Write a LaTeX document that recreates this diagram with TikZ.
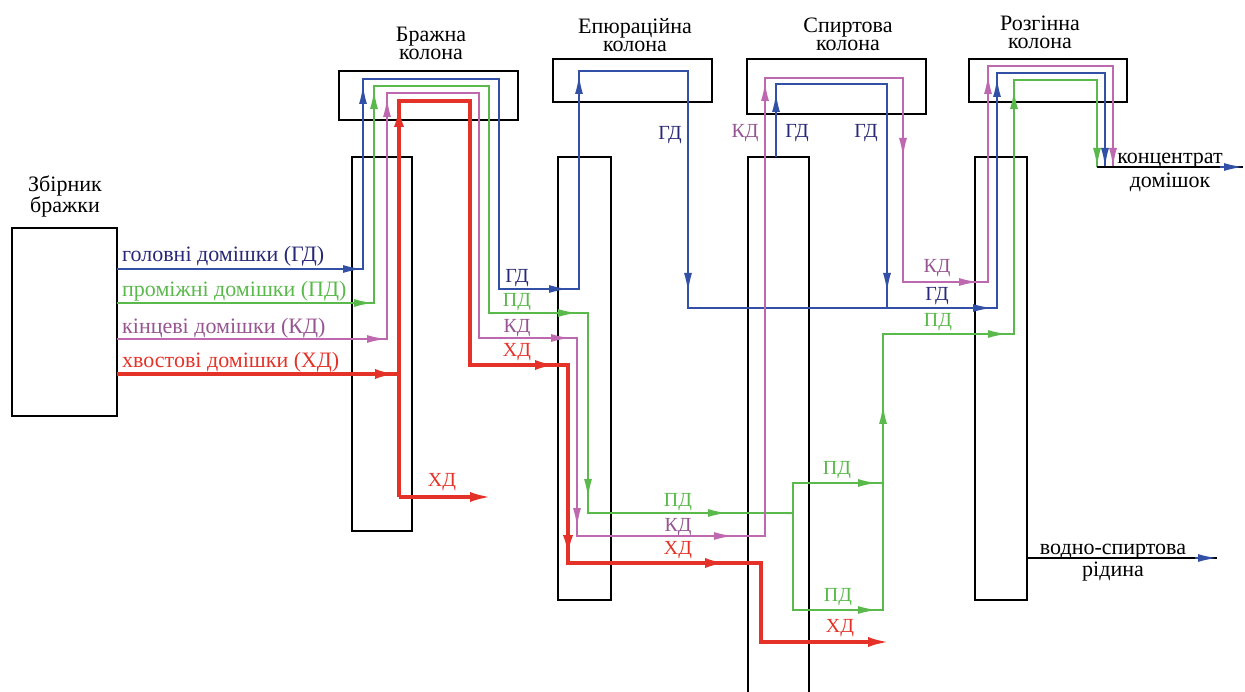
\documentclass[tikz,border=0pt]{standalone}
\usepackage{fontspec}
\setmainfont{Liberation Serif}
\newfontfamily\lserif{Liberation Serif}
\usepackage{xcolor}
\usetikzlibrary{arrows.meta,positioning}

\definecolor{gdline}{RGB}{50,80,165}
\definecolor{gdtext}{RGB}{40,40,120}
\definecolor{pdline}{RGB}{90,185,75}
\definecolor{kdline}{RGB}{190,105,175}
\definecolor{kdtext}{RGB}{150,85,145}
\definecolor{xdline}{RGB}{228,50,40}

\begin{document}
\begin{tikzpicture}[x=1pt, y=-1pt, >={Latex[length=19pt,width=8pt]}]

\tikzstyle{box}=[draw=black, line width=1.6pt, inner sep=0pt, outer sep=0pt]
\tikzstyle{title}=[font=\lserif\fontsize{22}{18}\selectfont, inner sep=0pt, align=center]
\tikzstyle{lbl}=[font=\lserif\fontsize{20}{20}\selectfont, inner sep=0pt]
\tikzstyle{inlbl}=[font=\lserif\fontsize{22}{22}\selectfont, inner sep=0pt, anchor=base west]
\tikzstyle{gd}=[draw=gdline, line width=1.8pt]
\tikzstyle{pd}=[draw=pdline, line width=1.8pt]
\tikzstyle{kd}=[draw=kdline, line width=1.8pt]
\tikzstyle{xd}=[draw=xdline, line width=3.6pt, >={Latex[length=22pt,width=10pt]}]

\useasboundingbox (0,0) rectangle (1245,692);

% збірник і колони
\node[box, minimum width=105pt, minimum height=188pt] (zbir) at (64.5,322) {};
\node[box, minimum width=179pt, minimum height=49pt] (brcap) at (428.5,95.5) {};
\node[box, minimum width=60pt, minimum height=374pt] (brcol) at (382,344) {};
\node[box, minimum width=159pt, minimum height=43pt] (epcap) at (632.5,80.5) {};
\node[box, minimum width=53pt, minimum height=443pt] (epcol) at (584.5,378.5) {};
\node[box, minimum width=179pt, minimum height=55pt] (spcap) at (836.5,86.5) {};
\coordinate (spcol) at (778.5,157);
\draw[box] (748,692) |- (spcol) -| (809,692);
\node[box, minimum width=158pt, minimum height=43pt] (rzcap) at (1048,80.5) {};
\node[box, minimum width=52pt, minimum height=443pt] (rzcol) at (1001,378.5) {};

% назви
\node[title] (tzbir) at (65,196.5) {Збірник\\бражки};
\node[title] (tbr) at (431,43.5) {Бражна\\колона};
\node[title] (tep) at (635,35) {Епюраційна\\колона};
\node[title] (tsp) at (848,34) {Спиртова\\колона};
\node[title] (trz) at (1040,32.5) {Розгінна\\колона};

% входи
\node[inlbl, text=gdtext] (ingd) at (122,262) {головні домішки (ГД)};
\node[inlbl, text=pdline] (inpd) at (122,297) {проміжні домішки (ПД)};
\node[inlbl, text=kdtext] (inkd) at (122,334) {кінцеві домішки (КД)};
\node[inlbl, text=xdline] (inxd) at (122,368) {хвостові домішки (ХД)};

% головні домішки
\draw[gd] (zbir.east |- 0,269) -- (363,269) -- (363,79) -- (499,79) -- (499,289)
  -- (579,289) -- (579,71) -- (688,71) -- (688,308) -- (997,308) -- (997,73)
  -- (1105,73) -- (1105,167);
\draw[gd] (776,157) -- (776,84) -- (887,84) -- (887,308);
\draw[gd,->] (340,269) -- (362,269);
\draw[gd,->] (363,110) -- (363,85);
\draw[gd,->] (545,289) -- (568,289);
\draw[gd,->] (579,100) -- (579,75);
\draw[gd,->] (688,270) -- (688,292);
\draw[gd,->] (970,308) -- (992,308);
\draw[gd,->] (776,118) -- (776,93);
\draw[gd,->] (887,270) -- (887,292);
\draw[gd,->] (997,100) -- (997,78);
\draw[gd,->] (1105,140) -- (1105,167);

% проміжні домішки
\draw[pd] (zbir.east |- 0,303) -- (374,303) -- (374,86) -- (489,86) -- (489,313)
  -- (588,313) -- (588,513) -- (793,513);
\draw[pd] (883,483) -- (793,483) -- (793,610) -- (883,610) -- (883,334) -- (1014,334)
  -- (1014,80) -- (1097,80) -- (1097,167);
\draw[pd,->] (350,303) -- (373,303);
\draw[pd,->] (374,115) -- (374,90);
\draw[pd,->] (555,313) -- (577,313);
\draw[pd,->] (588,475) -- (588,498);
\draw[pd,->] (705,513) -- (727,513);
\draw[pd,->] (855,483) -- (877,483);
\draw[pd,->] (855,610) -- (877,610);
\draw[pd,->] (883,430) -- (883,405);
\draw[pd,->] (985,334) -- (1007,334);
\draw[pd,->] (1014,115) -- (1014,90);
\draw[pd,->] (1097,140) -- (1097,167);

% кінцеві домішки
\draw[kd] (zbir.east |- 0,339) -- (387,339) -- (387,93) -- (479,93) -- (479,338)
  -- (577,338) -- (577,536) -- (765,536) -- (765,78) -- (903,78) -- (903,282)
  -- (988,282) -- (988,66) -- (1113,66) -- (1113,167);
\draw[kd,->] (364,339) -- (386,339);
\draw[kd,->] (387,120) -- (387,98);
\draw[kd,->] (548,338) -- (570,338);
\draw[kd,->] (577,505) -- (577,527);
\draw[kd,->] (711,536) -- (733,536);
\draw[kd,->] (765,105) -- (765,82);
\draw[kd,->] (903,135) -- (903,157);
\draw[kd,->] (956,282) -- (978,282);
\draw[kd,->] (988,98) -- (988,75);
\draw[kd,->] (1113,140) -- (1113,167);

% хвостові домішки
\draw[xd] (zbir.east |- 0,374) -- (397,374);
\draw[xd] (399,497) -- (399,101) -- (470,101) -- (470,365) -- (568,365) -- (568,563)
  -- (761,563) -- (761,642) -- (870,642);
\draw[xd,->] (399,497) -- (492,497);
\draw[xd,->] (375,374) -- (397,374);
\draw[xd,->] (399,128) -- (399,105);
\draw[xd,->] (535,365) -- (557,365);
\draw[xd,->] (568,535) -- (568,557);
\draw[xd,->] (705,563) -- (727,563);
\draw[xd,->] (860,642) -- (890,642);

% виходи
\coordinate (konc) at (1243,167);
\coordinate (vodn) at (1217,558);
\draw[line width=1.6pt] (1097,167) -- (konc);
\draw[line width=1.6pt] (rzcol.east |- vodn) -- (vodn);
\draw[gd,->] (1220,167) -- (konc);
\draw[gd,->] (1195,558) -- (vodn);
\node[title, font=\lserif\fontsize{22}{24}\selectfont] (tkonc) at (1170,172) {концентрат\\домішок};
\node[title, font=\lserif\fontsize{22}{22}\selectfont] (tvodn) at (1113,563) {водно-спиртова\\рідина};

% позначки
\node[lbl, text=gdtext] (l1) at (517,278) {ГД};
\node[lbl, text=pdline] (l2) at (517,302) {ПД};
\node[lbl, text=kdtext] (l3) at (517,328) {КД};
\node[lbl, text=xdline] (l4) at (517,352) {ХД};
\node[lbl, text=xdline] (l5) at (442,482) {ХД};
\node[lbl, text=gdtext] (l6) at (670,135) {ГД};
\node[lbl, text=kdtext] (l7) at (745,133) {КД};
\node[lbl, text=gdtext] (l8) at (797,133) {ГД};
\node[lbl, text=gdtext] (l9) at (866,133) {ГД};
\node[lbl, text=kdtext] (l10) at (937,268) {КД};
\node[lbl, text=gdtext] (l11) at (937,296) {ГД};
\node[lbl, text=pdline] (l12) at (938,322) {ПД};
\node[lbl, text=pdline] (l13) at (678,502) {ПД};
\node[lbl, text=kdtext] (l14) at (678,527) {КД};
\node[lbl, text=xdline] (l15) at (678,550) {ХД};
\node[lbl, text=pdline] (l16) at (837,470) {ПД};
\node[lbl, text=pdline] (l17) at (838,597) {ПД};
\node[lbl, text=xdline] (l18) at (840,628) {ХД};

\end{tikzpicture}
\end{document}
